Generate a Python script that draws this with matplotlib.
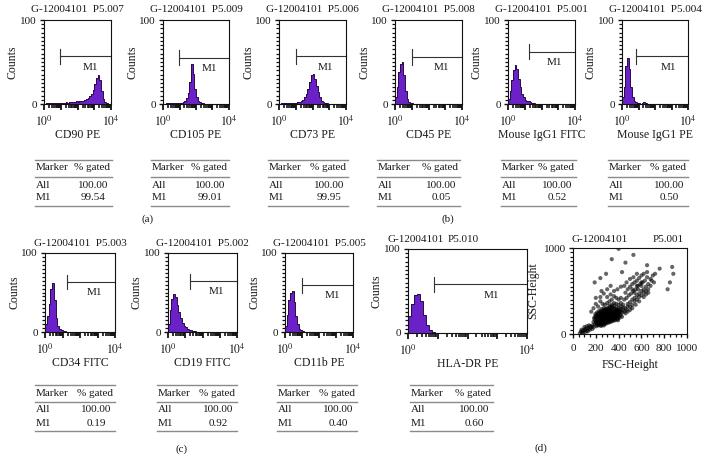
import numpy as np
import matplotlib
matplotlib.use('Agg')
import matplotlib.pyplot as plt
from matplotlib.lines import Line2D
from matplotlib.ticker import FixedLocator, NullFormatter, FixedFormatter

plt.rcParams['font.family'] = ['Liberation Serif', 'DejaVu Serif']
plt.rcParams['mathtext.fontset'] = 'stix'

# ---------------- data ----------------
sample_id = "G-12004101"
tube_ids = ["P5.007", "P5.009", "P5.006", "P5.008", "P5.001", "P5.004",
            "P5.003", "P5.002", "P5.005", "P5.010"]
channels = ["CD90 PE", "CD105 PE", "CD73 PE", "CD45 PE", "Mouse IgG1 FITC",
            "Mouse IgG1 PE", "CD34 FITC", "CD19 FITC", "CD11b PE", "HLA-DR PE"]
pct_all = [100.00, 100.00, 100.00, 100.00, 100.00, 100.00, 100.00, 100.00, 100.00, 100.00]
pct_m1 = [99.54, 99.01, 99.95, 0.05, 0.52, 0.50, 0.19, 0.92, 0.40, 0.60]
# M1 gate: start (log10 of fluorescence) and drawn level (% of count axis)
gate_start = [0.94, 0.97, 1.00, 1.00, 1.25, 0.86, 1.25, 1.27, 1.00, 0.87]
gate_level = [57, 55, 57, 56, 62, 57, 63, 64, 59, 58]

# histogram counts, 10 bins per decade over 10^0 .. 10^4
cd90 = [0, 1, 1, 1, 1, 1, 1, 1, 1, 1, 1, 1, 1, 2, 1, 2, 2, 2, 2, 3,
        2, 3, 3, 4, 5, 6, 7, 9, 12, 17, 24, 31, 35, 28, 15, 6, 2, 1, 0, 0]
cd105 = [0, 0, 1, 1, 1, 1, 1, 1, 1, 1, 1, 1, 2, 4, 7, 13, 26, 48, 36, 18,
         8, 4, 2, 1, 1, 0, 0, 0, 0, 0, 0, 0, 0, 0, 0, 0, 0, 0, 0, 0]
cd73 = [0, 1, 1, 1, 1, 1, 1, 1, 1, 1, 1, 2, 2, 3, 5, 8, 12, 18, 26, 34,
        36, 30, 22, 14, 8, 4, 2, 1, 1, 0, 0, 0, 0, 0, 0, 0, 0, 0, 0, 0]
cd45 = [8, 20, 38, 48, 50, 35, 15, 6, 2, 1, 1, 0, 0, 0, 0, 0, 0, 0, 0, 0,
        0, 0, 0, 0, 0, 0, 0, 0, 0, 0, 0, 0, 0, 0, 0, 0, 0, 0, 0, 0]
igg1_fitc = [6, 15, 28, 40, 46, 42, 30, 20, 12, 8, 5, 4, 3, 2, 1, 1, 0, 0, 0, 0,
             0, 0, 0, 0, 0, 0, 0, 0, 0, 0, 0, 0, 0, 0, 0, 0, 0, 0, 0, 0]
igg1_pe = [8, 20, 45, 55, 42, 20, 8, 4, 2, 1, 1, 0, 1, 2, 1, 0, 0, 0, 0, 0,
           0, 0, 0, 0, 0, 0, 0, 0, 0, 0, 0, 0, 0, 0, 0, 0, 0, 0, 0, 0]
cd34 = [10, 20, 35, 55, 62, 40, 18, 8, 4, 2, 1, 1, 0, 0, 0, 0, 0, 0, 0, 0,
        0, 0, 0, 0, 0, 0, 0, 0, 0, 0, 0, 0, 0, 0, 0, 0, 0, 0, 0, 0]
cd19 = [10, 28, 42, 48, 44, 34, 25, 18, 12, 8, 6, 4, 3, 2, 1, 1, 0, 0, 0, 0,
        0, 0, 0, 0, 0, 0, 0, 0, 0, 0, 0, 0, 0, 0, 0, 0, 0, 0, 0, 0]
cd11b = [8, 22, 40, 50, 52, 38, 20, 10, 4, 2, 1, 0, 0, 0, 0, 0, 0, 0, 0, 0,
         0, 0, 0, 0, 0, 0, 0, 0, 0, 0, 0, 0, 0, 0, 0, 0, 0, 0, 0, 0]
hla_dr = [20, 35, 45, 47, 38, 22, 10, 4, 1, 0, 0, 0, 0, 0, 0, 0, 0, 0, 0, 0,
          0, 0, 0, 0, 0, 0, 0, 0, 0, 0, 0, 0, 0, 0, 0, 0, 0, 0, 0, 0]
hist_counts = [cd90, cd105, cd73, cd45, igg1_fitc, igg1_pe, cd34, cd19, cd11b, hla_dr]

# FSC / SSC scatter (tube P5.001)
fsc = [210, 230, 250, 270, 290, 310, 330, 350, 370, 390,
       220, 240, 260, 280, 300, 320, 340, 360, 380, 400,
       200, 215, 235, 255, 275, 295, 315, 335, 355, 375,
       190, 205, 225, 245, 265, 285, 305, 325, 345, 365,
       250, 270, 290, 310, 330, 350, 370, 390, 410, 430,
       260, 280, 300, 320, 340, 360, 380, 400, 420, 440,
       230, 250, 270, 290, 310, 330, 350, 370, 390, 410,
       240, 260, 280, 300, 320, 340, 360, 380, 400, 420,
       215, 235, 255, 275, 295, 315, 335, 355, 375, 395,
       300, 320, 340, 360, 380, 400, 420, 440, 460, 450,
       280, 300, 270, 250, 230, 210, 195, 185, 180, 200,
       460, 470, 480, 440, 420, 400, 380, 360, 340, 320,
       195, 205, 215, 225, 235, 245, 255, 265, 275, 285,
       295, 305, 315, 325, 335, 345, 355, 365, 375, 385,
       205, 215, 225, 235, 245, 255, 265, 275, 285, 295,
       305, 315, 325, 335, 345, 355, 365, 375, 385, 395,
       240, 250, 260, 270, 280, 290, 300, 310, 320, 330,
       340, 350, 360, 370, 380, 390, 400, 410, 420, 430,
       245, 265, 285, 305, 325, 345, 365, 225, 205, 190,
       230, 260, 285, 315, 340, 365, 395, 215, 245, 270,
       60, 70, 80, 90, 100, 110, 120, 130, 140, 150, 160, 170, 90, 110, 75, 130,
       150, 170, 180, 120, 140, 100,
       480, 500, 520, 540, 560, 580, 600, 620, 640, 660,
       500, 520, 540, 560, 580, 600, 620, 640, 660, 680,
       450, 470, 490, 510, 530, 550, 570, 590, 610, 630,
       420, 400, 380, 360, 340, 320, 300, 280, 260, 240,
       460, 480, 500, 520, 540, 560, 580, 600, 620, 650,
       300, 330, 360, 390, 420, 450, 470, 500, 530, 560,
       220, 200, 180, 240, 270, 300, 330, 250, 200, 160,
       700, 720, 690, 710, 680, 650, 600, 570, 540, 600,
       640, 660, 620, 580, 550, 520, 500, 480, 560, 520,
       400, 530, 460, 870, 850, 830, 880, 340, 290, 240, 190, 430, 760, 650]
ssc = [150, 180, 200, 220, 190, 210, 240, 230, 260, 250,
       120, 140, 160, 170, 180, 200, 190, 220, 210, 240,
       200, 230, 250, 240, 260, 280, 270, 290, 300, 280,
       110, 90, 100, 115, 130, 140, 150, 160, 170, 180,
       100, 110, 120, 130, 140, 150, 160, 170, 190, 200,
       260, 240, 250, 260, 270, 250, 240, 270, 260, 280,
       210, 220, 200, 230, 240, 220, 210, 230, 220, 230,
       170, 190, 200, 220, 180, 210, 200, 190, 210, 220,
       170, 160, 180, 150, 160, 170, 180, 190, 200, 200,
       300, 310, 320, 330, 310, 300, 320, 310, 300, 260,
       280, 270, 300, 290, 270, 250, 230, 180, 140, 130,
       240, 280, 320, 340, 360, 340, 350, 360, 340, 330,
       160, 175, 190, 205, 220, 235, 210, 225, 240, 255,
       205, 225, 245, 265, 250, 235, 245, 265, 255, 270,
       140, 125, 145, 130, 150, 135, 155, 165, 175, 145,
       165, 185, 175, 195, 205, 175, 215, 225, 235, 185,
       190, 180, 205, 185, 215, 205, 195, 195, 225, 205,
       235, 255, 235, 245, 265, 285, 255, 275, 290, 250,
       260, 275, 290, 290, 300, 310, 290, 240, 215, 195,
       115, 120, 125, 140, 155, 165, 160, 105, 95, 100,
       10, 30, 20, 40, 50, 60, 40, 70, 60, 90, 80, 100, 15, 25, 50, 30,
       50, 60, 80, 90, 100, 80,
       350, 370, 400, 420, 450, 470, 500, 520, 550, 580,
       320, 340, 380, 400, 430, 450, 480, 500, 520, 560,
       400, 420, 450, 470, 500, 520, 560, 580, 600, 620,
       420, 400, 420, 440, 400, 380, 360, 340, 350, 380,
       480, 520, 550, 580, 600, 620, 650, 680, 700, 660,
       430, 460, 500, 520, 550, 560, 600, 640, 660, 700,
       320, 350, 300, 430, 470, 520, 560, 500, 420, 260,
       680, 700, 620, 600, 640, 720, 600, 520, 480, 560,
       460, 480, 430, 380, 340, 300, 280, 260, 560, 520,
       990, 920, 830, 780, 600, 520, 700, 870, 700, 650, 600, 720, 760, 800]

# ---------------- layout (pixels) ----------------
W, H = 703, 471
FS = 8.0
fig = plt.figure(figsize=(W / 100, H / 100), dpi=100)

def box(l, r, t, b):
    return [l / W, 1 - b / H, (r - l) / W, (b - t) / H]

def ftxt(x, y, s, **kw):
    kw.setdefault('ha', 'center')
    kw.setdefault('va', 'center')
    kw.setdefault('color', '#1a1a1a')
    kw.setdefault('fontsize', FS)
    fig.text(x / W, 1 - y / H, s, **kw)

def fline(x0, x1, y, lw=1.0, color='#8a8a8a'):
    fig.add_artist(Line2D([x0 / W, x1 / W], [1 - y / H, 1 - y / H], lw=lw, color=color))

hist_boxes = [(44, 111, 20, 104), (163, 229, 20, 104), (279, 346, 20, 104),
              (395, 462, 20, 104), (508, 575, 20, 104), (622, 688, 20, 104),
              (45, 115, 253, 332), (168, 237, 253, 332), (285, 353, 253, 332),
              (408, 527, 249, 333)]
table_x = [(35, 112), (151, 229), (268, 348), (377, 460), (501, 576), (608, 688),
           (35, 115), (157, 237), (277, 357), (410, 493)]
table_top = [160] * 6 + [385] * 4

edges = np.logspace(0, 4, 41)
purple = '#6a22c8'

for i in range(10):
    l, r, t, b = hist_boxes[i]
    ax = fig.add_axes(box(l, r, t, b))
    ax.stairs(hist_counts[i], edges, fill=True, color=purple, lw=0)
    ax.stairs(hist_counts[i], edges, color='#2a0a45', lw=0.7)
    ax.set_xscale('log')
    ax.set_xlim(1, 1e4)
    ax.set_ylim(0, 100)
    ax.xaxis.set_major_locator(FixedLocator([1, 10, 100, 1000, 10000]))
    ax.xaxis.set_major_formatter(FixedFormatter([r'$10^0$', '', '', '', r'$10^4$']))
    ax.xaxis.set_minor_locator(FixedLocator([m * 10 ** d for d in range(4) for m in range(2, 10)]))
    ax.xaxis.set_minor_formatter(NullFormatter())
    ax.yaxis.set_major_locator(FixedLocator([0, 100]))
    ax.yaxis.set_minor_locator(FixedLocator(list(range(5, 100, 5))))
    ax.tick_params(axis='x', which='major', direction='out', length=4, width=1.3,
                   labelsize=FS + 0.5, pad=4, colors='#111111', labelcolor='#1a1a1a')
    ax.tick_params(axis='x', which='minor', direction='out', length=3, width=1.2, colors='#111111')
    ax.tick_params(axis='y', which='major', direction='out', length=3, width=1.0,
                   labelsize=FS, pad=2, colors='#111111', labelcolor='#1a1a1a')
    ax.tick_params(axis='y', which='minor', direction='out', length=2, width=0.9, colors='#111111')
    for s in ax.spines.values():
        s.set_linewidth(0.8)
        s.set_color('#111111')
    # gate M1
    gx = 10 ** gate_start[i]
    gy = gate_level[i]
    ax.plot([gx, 1e4], [gy, gy], color='#333333', lw=0.8, clip_on=False)
    ax.plot([gx, gx], [gy - 9, gy + 9], color='#333333', lw=0.8)
    ax.text(0.70, (gy - 13) / 100, 'M1', transform=ax.transAxes, ha='center',
            va='center', fontsize=FS, color='#1a1a1a')
    # titles and labels
    cx = (l + r) / 2
    if i == 9:
        ftxt(l - 20, t - 9, sample_id, ha='left')
        ftxt(463, t - 9, tube_ids[i])
    else:
        ftxt(cx, t - 10, sample_id + '  ' + tube_ids[i])
    ftxt(l - 31, (t + b) / 2, 'Counts', rotation=90, fontsize=FS + 0.5)
    ftxt(cx, b + 31, channels[i], fontsize=FS + 0.5)
    # table
    x0, x1 = table_x[i]
    T = table_top[i]
    colc = x1 - 19
    fline(x0, x1, T)
    ftxt(x0 + 1, T + 8, 'Marker', ha='left')
    ftxt(colc - 1, T + 8, '% gated')
    fline(x0, x1, T + 17)
    ftxt(x0 + 1, T + 25, 'All', ha='left')
    ftxt(colc, T + 25, f'{pct_all[i]:.2f}')
    ftxt(x0 + 1, T + 38, 'M1', ha='left')
    ftxt(colc, T + 38, f'{pct_m1[i]:.2f}')
    fline(x0, x1, T + 46)

# scatter panel
ax = fig.add_axes(box(573, 687, 248, 334))
ax.scatter(fsc, ssc, s=9, color='black', alpha=0.6, edgecolors='none')
ax.set_xlim(0, 1000)
ax.set_ylim(0, 1000)
ax.xaxis.set_major_locator(FixedLocator([0, 200, 400, 600, 800, 1000]))
ax.xaxis.set_minor_locator(FixedLocator(list(range(50, 1000, 50))))
ax.yaxis.set_major_locator(FixedLocator([0, 1000]))
ax.yaxis.set_minor_locator(FixedLocator(list(range(50, 1000, 50))))
ax.tick_params(which='major', direction='out', length=3, width=1.0, labelsize=FS,
               pad=2, colors='#111111', labelcolor='#1a1a1a')
ax.tick_params(which='minor', direction='out', length=2, width=0.9, colors='#111111')
ax.tick_params(axis='x', pad=4)
for s in ax.spines.values():
    s.set_linewidth(0.8)
    s.set_color('#111111')
ftxt(572, 239, sample_id, ha='left')
ftxt(668, 239, 'P5.001')
ftxt(533, 291, 'SSC-Height', rotation=90, fontsize=FS + 0.5)
ftxt(630, 365, 'FSC-Height', fontsize=FS + 0.5)

# panel letters
ftxt(148, 219, '(a)')
ftxt(448, 219, '(b)')
ftxt(182, 449, '(c)')
ftxt(541, 448, '(d)')

fig.savefig('out.png', dpi=100)
